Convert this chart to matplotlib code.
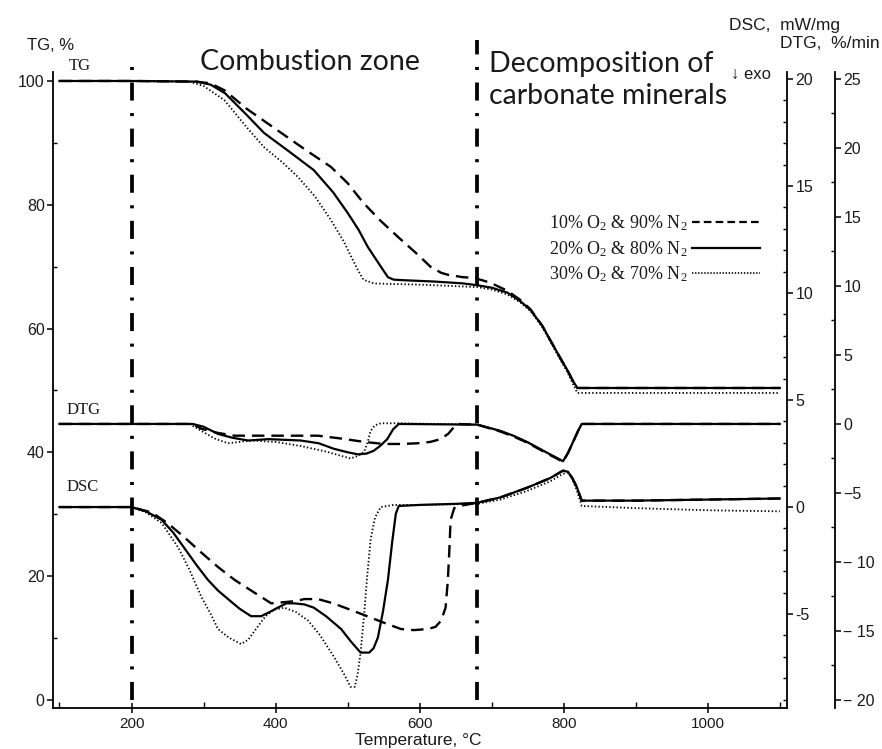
import matplotlib
matplotlib.use('Agg')
import matplotlib.pyplot as plt
from matplotlib.lines import Line2D
from matplotlib.ticker import MultipleLocator, FuncFormatter

plt.rcParams['font.family'] = ['Liberation Sans', 'DejaVu Sans']
plt.rcParams['mathtext.fontset'] = 'custom'
plt.rcParams['mathtext.rm'] = 'Liberation Serif'
plt.rcParams['mathtext.it'] = 'Liberation Serif:italic'
plt.rcParams['lines.scale_dashes'] = False

# ---------------- data ----------------
series_labels = ['10% O$_2$ & 90% N$_2$', '20% O$_2$ & 80% N$_2$', '30% O$_2$ & 70% N$_2$']
zone_bounds = [200, 680]

# TG (%), left axis
tg10_T = [100, 200, 290, 310, 329, 360, 408, 440, 477, 500, 522, 545, 570, 595, 615, 630, 639, 660, 675,
          690, 700, 722, 740, 754, 770, 781, 795, 805, 813, 819, 830, 1100]
tg10_v = [100, 100, 99.9, 99.6, 98.5, 95.5, 91.6, 89.0, 86.1, 83.5, 80.3, 77.5, 74.8, 72.2, 70.0, 69.0, 68.7,
          68.3, 68.2, 67.7, 67.3, 66.1, 64.6, 63.1, 60.5, 58.2, 55.3, 53.3, 51.5, 50.4, 50.4, 50.4]
tg20_T = [100, 200, 290, 310, 330, 360, 384, 420, 453, 480, 500, 515, 528, 545, 556, 564, 580, 620, 660, 680,
          700, 722, 740, 754, 770, 781, 795, 805, 813, 819, 830, 1100]
tg20_v = [100, 100, 99.9, 99.4, 98.0, 94.5, 91.6, 88.5, 85.6, 82.0, 78.7, 76.0, 73.2, 70.2, 68.3, 67.9, 67.8,
          67.6, 67.3, 67.0, 66.6, 65.8, 64.4, 63.0, 60.5, 58.2, 55.3, 53.3, 51.5, 50.4, 50.4, 50.4]
tg30_T = [100, 200, 280, 300, 329, 360, 384, 410, 431, 455, 477, 495, 505, 515, 522, 536, 560, 600, 640, 680,
          700, 722, 740, 754, 770, 781, 795, 805, 813, 819, 830, 1100]
tg30_v = [100, 100, 99.9, 99.2, 96.9, 92.5, 89.3, 86.8, 84.5, 81.3, 77.5, 74.0, 71.6, 69.3, 67.9, 67.3, 67.2,
          67.1, 66.9, 66.7, 66.3, 65.5, 64.2, 62.8, 60.3, 58.0, 55.0, 53.0, 51.0, 49.6, 49.6, 49.6]

# DTG (%/min), outer right axis
dtg10_T = [100, 200, 285, 297, 320, 343, 390, 459, 490, 523, 550, 575, 597, 615, 629, 640, 648, 652, 680,
           712, 730, 749, 765, 781, 792, 799, 806, 813, 820, 825, 1100]
dtg10_v = [0, 0, 0, -0.35, -0.65, -0.85, -0.85, -0.85, -1.05, -1.3, -1.45, -1.45, -1.4, -1.3, -1.1, -0.7,
           -0.2, 0, -0.05, -0.55, -0.9, -1.35, -1.8, -2.25, -2.55, -2.75, -2.1, -1.3, -0.5, 0, 0]
dtg20_T = [100, 200, 285, 300, 320, 340, 362, 390, 435, 460, 481, 500, 514, 526, 536, 545, 555, 563, 571, 680,
           712, 730, 749, 765, 781, 792, 799, 806, 813, 820, 825, 1100]
dtg20_v = [0, 0, 0, -0.2, -0.72, -1.0, -1.2, -1.1, -1.2, -1.4, -1.8, -2.05, -2.2, -2.15, -1.95, -1.6, -1.1,
           -0.4, 0, -0.05, -0.5, -0.85, -1.3, -1.75, -2.2, -2.5, -2.7, -2.1, -1.3, -0.5, 0, 0]
dtg30_T = [100, 200, 280, 297, 315, 334, 366, 400, 435, 470, 504, 515, 523, 528, 532, 538, 546, 570, 680,
           712, 730, 749, 765, 781, 792, 799, 806, 813, 820, 825, 1100]
dtg30_v = [0, 0, 0, -0.5, -1.05, -1.4, -1.2, -1.3, -1.6, -2.0, -2.5, -2.3, -2.0, -1.3, -0.5, -0.1, 0.05,
           0.05, -0.05, -0.5, -0.85, -1.3, -1.75, -2.2, -2.5, -2.7, -2.1, -1.3, -0.5, 0, 0]

# DSC (mW/mg), inner right axis
dsc10_T = [100, 200, 228, 250, 273, 296, 320, 343, 366, 380, 394, 410, 426, 440, 459, 480, 504, 527, 550,
           574, 592, 611, 622, 630, 636, 639, 641, 643, 648, 655, 680, 712, 749, 781, 799, 806, 812, 818,
           825, 900, 1000, 1100]
dsc10_v = [0, 0, -0.25, -0.75, -1.4, -2.1, -2.8, -3.4, -3.9, -4.2, -4.5, -4.45, -4.4, -4.3, -4.3, -4.5, -4.8,
           -5.1, -5.4, -5.7, -5.75, -5.7, -5.6, -5.3, -4.7, -3.5, -2.2, -0.6, -0.05, 0.05, 0.2, 0.45, 0.9,
           1.35, 1.7, 1.65, 1.35, 0.95, 0.3, 0.3, 0.35, 0.4]
dsc20_T = [100, 200, 220, 242, 258, 273, 290, 306, 320, 334, 350, 366, 380, 392, 403, 415, 426, 440, 453,
           470, 491, 505, 518, 530, 536, 542, 549, 556, 562, 567, 571, 600, 650, 680, 712, 749, 781, 799,
           806, 812, 818, 825, 900, 1000, 1100]
dsc20_v = [0, 0, -0.2, -0.6, -1.2, -1.9, -2.7, -3.4, -3.9, -4.3, -4.75, -5.1, -5.1, -4.9, -4.7, -4.5, -4.5,
           -4.55, -4.7, -5.1, -5.7, -6.3, -6.8, -6.8, -6.6, -6.1, -4.9, -3.4, -1.6, -0.3, 0.05, 0.1, 0.15,
           0.2, 0.45, 0.9, 1.35, 1.7, 1.65, 1.35, 0.95, 0.3, 0.3, 0.35, 0.4]
dsc30_T = [100, 200, 220, 242, 265, 280, 297, 310, 320, 335, 352, 362, 375, 386, 398, 412, 428, 445, 462,
           481, 495, 504, 510, 514, 518, 523, 527, 532, 538, 546, 564, 600, 680, 712, 749, 781, 799, 806,
           812, 818, 825, 900, 1000, 1100]
dsc30_v = [0, 0, -0.25, -0.75, -1.9, -2.9, -4.2, -5.0, -5.7, -6.1, -6.4, -6.2, -5.6, -5.1, -4.8, -4.7, -4.9,
           -5.3, -6.0, -7.0, -7.8, -8.4, -8.4, -7.8, -6.8, -5.0, -3.3, -1.5, -0.5, 0.0, 0.1, 0.1, 0.15,
           0.35, 0.75, 1.2, 1.55, 1.6, 1.3, 0.8, 0.05, -0.05, -0.15, -0.2]

tg_ticks = [0, 20, 40, 60, 80, 100]
dsc_ticks = [-5, 0, 5, 10, 15, 20]
dtg_ticks = [-20, -15, -10, -5, 0, 5, 10, 15, 20, 25]
x_ticks = [200, 400, 600, 800, 1000]

# ---------------- styles ----------------
styles = [
    dict(color='black', lw=1.7, linestyle=(0, (9, 5))),
    dict(color='black', lw=1.6, linestyle='-'),
    dict(color='black', lw=1.3, linestyle=(0, (1, 1.6))),
]
legend_styles = [
    dict(color='black', lw=1.6, linestyle=(0, (5.5, 3))),
    dict(color='black', lw=1.6, linestyle='-'),
    dict(color='black', lw=1.2, linestyle=(0, (1, 1.2))),
]
zone_style = dict(color='black', lw=2.7, linestyle=(0, (13, 9, 2.2, 9)), clip_on=False)
TXT = '#1a1a1a'

W, H = 882, 749
fig = plt.figure(figsize=(W / 100, H / 100), dpi=100)
ax_l, ax_r, ax_b, ax_t = 53, 787, 708, 72
ax = fig.add_axes([ax_l / W, 1 - ax_b / H, (ax_r - ax_l) / W, (ax_b - ax_t) / H])
ax_dsc = ax.twinx()
ax_dtg = ax.twinx()

ax.set_xlim(91, 1110)
ax.set_ylim(-1.3, 101.45)
ax_dsc.set_ylim(-9.39, 20.33)
ax_dtg.set_ylim(-20.58, 25.5)

for T, v, st in zip([tg10_T, tg20_T, tg30_T], [tg10_v, tg20_v, tg30_v], styles):
    ax.plot(T, v, **st)
for T, v, st in zip([dtg10_T, dtg20_T, dtg30_T], [dtg10_v, dtg20_v, dtg30_v], styles):
    ax_dtg.plot(T, v, **st)
for T, v, st in zip([dsc10_T, dsc20_T, dsc30_T], [dsc10_v, dsc20_v, dsc30_v], styles):
    ax_dsc.plot(T, v, **st)

# zone boundaries
ax.axvline(zone_bounds[0], ymin=0.0126, ymax=1.011, **zone_style)
ax.axvline(zone_bounds[1], ymin=0.0126, ymax=1.05, **zone_style)

# spines
for a in (ax, ax_dsc, ax_dtg):
    a.spines['top'].set_visible(False)
    for s in a.spines.values():
        s.set_linewidth(1.3)
ax.spines['right'].set_visible(False)
ax_dsc.spines['left'].set_visible(False)
ax_dsc.spines['bottom'].set_visible(False)
ax_dtg.spines['left'].set_visible(False)
ax_dtg.spines['bottom'].set_visible(False)
ax_dtg.spines['right'].set_position(('outward', 34.5))

# ticks
ax.set_xticks(x_ticks)
ax.xaxis.set_minor_locator(MultipleLocator(100))
ax.set_yticks(tg_ticks)
ax.yaxis.set_minor_locator(MultipleLocator(10))
ax.tick_params(axis='x', which='major', direction='inout', length=7, width=1.1, labelsize=11, pad=3,
               labelcolor=TXT)
ax.tick_params(axis='x', which='minor', direction='in', length=4, width=1.0)
ax.tick_params(axis='y', which='major', direction='out', length=4, width=1.1, labelsize=11.5, pad=2,
               labelcolor=TXT)
ax.tick_params(axis='y', which='minor', direction='in', length=3, width=1.0)

ax_dsc.set_yticks(dsc_ticks)
ax_dsc.yaxis.set_minor_locator(MultipleLocator(1))
ax_dsc.tick_params(axis='y', which='major', direction='out', length=4, width=1.1, labelsize=11.5, pad=2,
                   labelcolor=TXT)
ax_dsc.tick_params(axis='y', which='minor', direction='in', length=3, width=1.0)
ax_dsc.yaxis.set_major_formatter(FuncFormatter(lambda v, p: f'{int(v)}'.replace('\u2212', '-')))

ax_dtg.set_yticks(dtg_ticks)
ax_dtg.yaxis.set_minor_locator(MultipleLocator(2.5))
ax_dtg.tick_params(axis='y', which='major', direction='out', length=4, width=1.1, labelsize=11.5, pad=2,
                   labelcolor=TXT)
ax_dtg.tick_params(axis='y', which='minor', direction='in', length=3, width=1.0)


def dtg_fmt(v, p):
    v = int(round(v))
    if v <= -10:
        return f'\u2212 {abs(v)}'
    if v < 0:
        return f'\u2212{abs(v)}'
    return f'{v}'


ax_dtg.yaxis.set_major_formatter(FuncFormatter(dtg_fmt))

# legend
handles = [Line2D([], [], **st) for st in legend_styles]
leg = ax.legend(handles, series_labels, loc='upper right', bbox_to_anchor=(0.978, 0.795),
                frameon=False, markerfirst=False, handlelength=3.75, handletextpad=0.25,
                labelspacing=0.33, borderaxespad=0.2,
                prop={'family': 'Liberation Serif', 'size': 13})
for t in leg.get_texts():
    t.set_color(TXT)

# texts
big = dict(fontsize=20.5, color=TXT, family=['Lato', 'DejaVu Sans'])
fig.text(310 / W, 1 - 70 / H, 'Combustion zone', ha='center', va='baseline', **big)
fig.text(489 / W, 1 - 72 / H, 'Decomposition of', ha='left', va='baseline', **big)
fig.text(489 / W, 1 - 104 / H, 'carbonate minerals', ha='left', va='baseline', **big)
fig.text(731 / W, 1 - 79 / H, '\u2193 exo', ha='left', va='baseline', fontsize=12, color=TXT,
         family=['Liberation Sans', 'DejaVu Sans'])
fig.text(27 / W, 1 - 50 / H, 'TG, %', ha='left', va='baseline', fontsize=12, color=TXT)
fig.text(729 / W, 1 - 30 / H, 'DSC,  mW/mg', ha='left', va='baseline', fontsize=12.5, color=TXT)
fig.text(780 / W, 1 - 48 / H, 'DTG,  %/min', ha='left', va='baseline', fontsize=12.5, color=TXT)
fig.text(418 / W, 1 - 741 / H, 'Temperature, \u00b0C', ha='center', va='center', fontsize=12.5,
         color=TXT)

for s, (x, y) in zip(['TG', 'DTG', 'DSC'], [(69, 66), (67, 410), (67, 487)]):
    fig.text(x / W, 1 - y / H, s, ha='left', va='center', fontsize=12, color=TXT,
             family=['Liberation Serif', 'DejaVu Serif'])

fig.savefig('out.png', dpi=100)
